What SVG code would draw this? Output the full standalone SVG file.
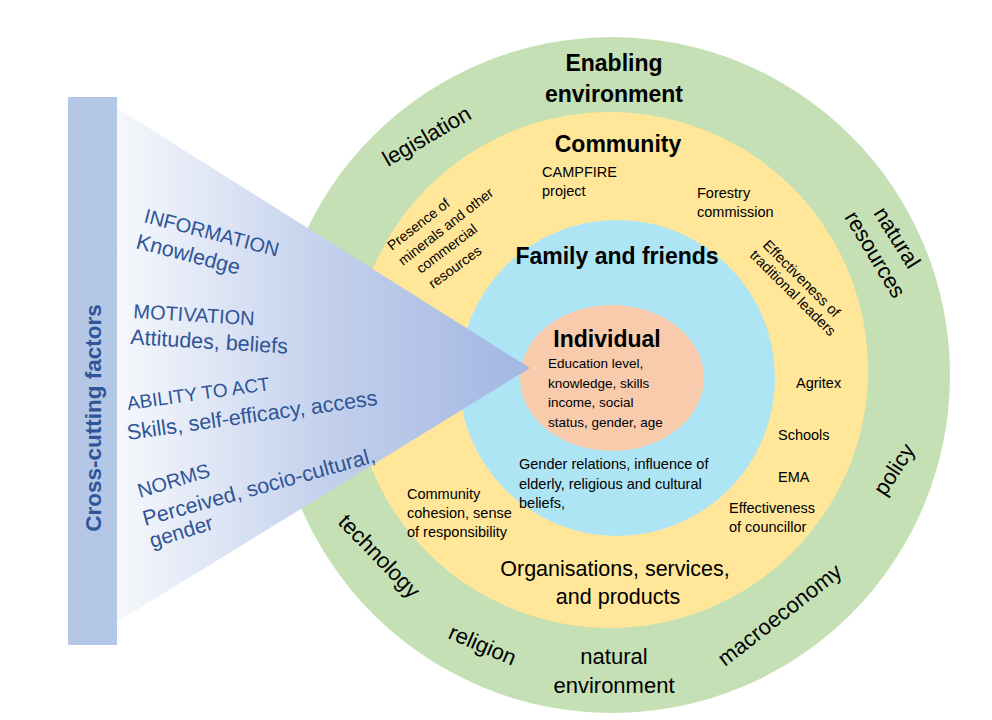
<svg xmlns="http://www.w3.org/2000/svg" width="992" height="720" viewBox="0 0 992 720">
<defs>
<linearGradient id="tri" x1="117" y1="0" x2="530" y2="0" gradientUnits="userSpaceOnUse">
<stop offset="0" stop-color="#f6f8fc"/>
<stop offset="0.5" stop-color="#c4d1ed"/>
<stop offset="1" stop-color="#a2b6e1"/>
</linearGradient>
<style>
text{font-family:"Liberation Sans",Arial,sans-serif;fill:#000}
.t{font-weight:bold;font-size:23px}
.s{font-size:14.5px}
.p{font-size:14px}
.o{font-size:22px}
.c{fill:#2f5597}
.m{text-anchor:middle}
</style>
</defs>
<rect width="992" height="720" fill="#ffffff"/>
<g id="enabling-environment">
<circle cx="612" cy="375" r="338" fill="#c5e0b4"/>
</g>
<g id="community">
<circle cx="610" cy="370" r="258" fill="#ffe699"/>
</g>
<g id="family-and-friends">
<circle cx="617" cy="378" r="158" fill="#ade5f5"/>
</g>
<g id="individual">
<ellipse cx="612" cy="378" rx="92" ry="73" fill="#f8cbad"/>
</g>
<g id="cross-cutting">
<rect x="68" y="97" width="49" height="548" fill="#b4c7e7"/>
<polygon points="117,108 530,368 117,622" fill="url(#tri)"/>
<text class="c" font-weight="bold" font-size="22.5" text-anchor="middle" transform="translate(101,418) rotate(-90)">Cross-cutting factors</text>
<text class="c" font-size="20" transform="translate(143,222) rotate(14.5)">INFORMATION</text>
<text class="c" font-size="21.5" transform="translate(135,248) rotate(14.5)">Knowledge</text>
<text class="c" font-size="20" transform="translate(133,318) rotate(3.5)">MOTIVATION</text>
<text class="c" font-size="21.5" transform="translate(130,344) rotate(3.5)">Attitudes, beliefs</text>
<text class="c" font-size="19" transform="translate(128,410) rotate(-8)">ABILITY TO ACT</text>
<text class="c" font-size="21.5" transform="translate(128,440) rotate(-8)">Skills, self-efficacy, access</text>
<text class="c" font-size="20" transform="translate(140,498) rotate(-17)">NORMS</text>
<text class="c" font-size="21.5" transform="translate(145,526) rotate(-15.5)">Perceived, socio-cultural,</text>
<text class="c" font-size="21" transform="translate(152,548) rotate(-17)">gender</text>
</g>
<g id="enabling-labels">
<text class="t m" x="614" y="71">Enabling</text>
<text class="t m" x="614" y="102">environment</text>
<text class="o" transform="translate(388,167) rotate(-30)">legislation</text>
<text class="o" transform="translate(873,213) rotate(58)">natural</text>
<text class="o" transform="translate(844,217) rotate(59)">resources</text>
<text class="o" font-size="21" transform="translate(885,497) rotate(-57)">policy</text>
<text class="o" transform="translate(725,667) rotate(-38)">macroeconomy</text>
<text class="o m" x="614" y="664">natural</text>
<text class="o m" x="614" y="693">environment</text>
<text class="o" transform="translate(447,638) rotate(23)">religion</text>
<text class="o" transform="translate(337,523) rotate(46)">technology</text>
</g>
<g id="community-labels">
<text class="t m" x="618" y="152">Community</text>
<text class="s" x="542" y="177">CAMPFIRE</text>
<text class="s" x="542" y="196">project</text>
<text class="s" x="697" y="198">Forestry</text>
<text class="s" x="697" y="217">commission</text>
<text class="p" transform="translate(392,251) rotate(-38)">Presence of</text>
<text class="p" transform="translate(403,266) rotate(-38)">minerals and other</text>
<text class="p" transform="translate(421,274) rotate(-37)">commercial</text>
<text class="p" transform="translate(433,289) rotate(-36)">resources</text>
<text class="s" transform="translate(762,246) rotate(45)">Effectiveness of</text>
<text class="s" transform="translate(749,256) rotate(45)">traditional leaders</text>
<text class="s" x="796" y="388">Agritex</text>
<text class="s" x="778" y="440">Schools</text>
<text class="s" x="778" y="482">EMA</text>
<text class="s" x="729" y="513">Effectiveness</text>
<text class="s" x="729" y="532">of councillor</text>
<text class="s" x="407" y="499">Community</text>
<text class="s" x="407" y="518">cohesion, sense</text>
<text class="s" x="407" y="537">of responsibility</text>
<text font-size="21.5" class="m" x="615" y="576">Organisations, services,</text>
<text font-size="21.5" class="m" x="618" y="604">and products</text>
</g>
<g id="family-labels">
<text class="t m" x="617" y="264">Family and friends</text>
<text class="s" x="519" y="469">Gender relations, influence of</text>
<text class="s" x="519" y="489">elderly, religious and cultural</text>
<text class="s" x="519" y="508">beliefs,</text>
</g>
<g id="individual-labels">
<text class="t m" x="607" y="347">Individual</text>
<text font-size="13.5" x="548" y="368">Education level,</text>
<text font-size="13.5" x="548" y="388">knowledge, skills</text>
<text font-size="13.5" x="548" y="407">income, social</text>
<text font-size="13.5" x="548" y="427">status, gender, age</text>
</g>
</svg>
